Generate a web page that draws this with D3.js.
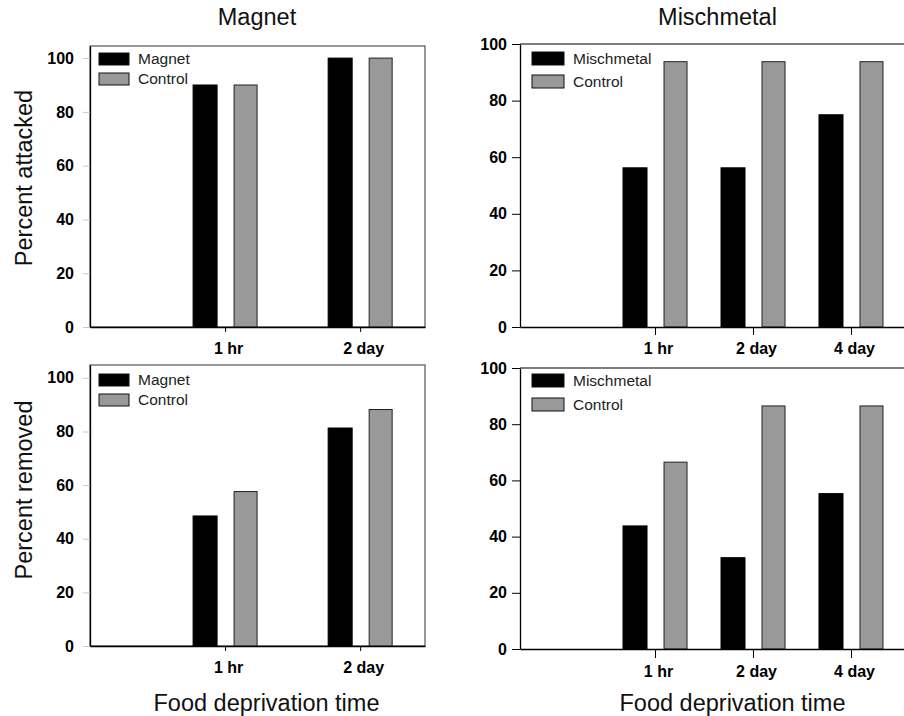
<!DOCTYPE html>
<html><head><meta charset="utf-8">
<script src="https://cdn.jsdelivr.net/npm/d3@7"></script>
<style>
body{margin:0;background:#fff}
svg{display:block;font-family:"Liberation Sans",Arial,sans-serif}
</style>
</head><body>
<svg id="chart" width="904" height="716"></svg>
<script>
// ---- data ----
const magnetCategories = ["1 hr", "2 day"];
const mischCategories = ["1 hr", "2 day", "4 day"];
const yTickValues = [0, 20, 40, 60, 80, 100];
const magnetAttacked = [90, 100];
const magnetAttackedControl = [90, 100];
const mischAttacked = [56.25, 56.25, 75];
const mischAttackedControl = [93.75, 93.75, 93.75];
const magnetRemoved = [48.5, 81.3];
const magnetRemovedControl = [57.6, 88.2];
const mischRemoved = [43.8, 32.5, 55.3];
const mischRemovedControl = [66.5, 86.5, 86.5];
const magnetSeries = ["Magnet", "Control"];
const mischSeries = ["Mischmetal", "Control"];
const panelTitles = ["Magnet", "Mischmetal"];
const yTitles = ["Percent attacked", "Percent removed"];
const xTitle = "Food deprivation time";

// ---- layout ----
const svg = d3.select("#chart");
const BLACK = "#000", GRAY = "#999999";

const panels = [
  {cats: magnetCategories, a: magnetAttacked, c: magnetAttackedControl, names: magnetSeries,
   x0: 90, x1: 425, xDomain: [0, 2.48], yB: 327, yT: 46, yMax: 104.5, frame: true,
   yTick: 7, yPad: 9, yTickColor: "#c8c8c8", xTick: 5, xPad: 11, leg: {x: 99, y: 53, gap: 20, w: 30, h: 12}},
  {cats: mischCategories, a: mischAttacked, c: mischAttackedControl, names: mischSeries,
   x0: 520, x1: 904, xDomain: [-0.378, 3.541], yB: 327, yT: 44, yMax: 100, frame: false,
   yTick: 8, yPad: 5, yTickColor: "#000", xTick: 8, xPad: 8, leg: {x: 532, y: 52, gap: 23, w: 32, h: 13}},
  {cats: magnetCategories, a: magnetRemoved, c: magnetRemovedControl, names: magnetSeries,
   x0: 90, x1: 425, xDomain: [0, 2.48], yB: 646, yT: 365, yMax: 104.8, frame: true,
   yTick: 7, yPad: 9, yTickColor: "#c8c8c8", xTick: 5, xPad: 11, leg: {x: 99, y: 374, gap: 20, w: 30, h: 12}},
  {cats: mischCategories, a: mischRemoved, c: mischRemovedControl, names: mischSeries,
   x0: 520, x1: 904, xDomain: [-0.378, 3.541], yB: 649, yT: 368, yMax: 100, frame: false,
   yTick: 8, yPad: 5, yTickColor: "#000", xTick: 9, xPad: 8, leg: {x: 532, y: 374, gap: 24, w: 32, h: 13}}
];

panels.forEach(p => {
  const x = d3.scaleLinear().domain(p.xDomain).range([p.x0, p.x1]);
  const y = d3.scaleLinear().domain([0, p.yMax]).range([p.yB, p.yT]);
  const g = svg.append("g");

  // frame / top line
  if (p.frame) {
    g.append("rect").attr("x", p.x0).attr("y", p.yT).attr("width", p.x1 - p.x0).attr("height", p.yB - p.yT)
      .attr("fill", "none").attr("stroke", "#333").attr("stroke-width", 1);
  } else {
    g.append("line").attr("x1", p.x0).attr("x2", p.x1).attr("y1", y(100)).attr("y2", y(100))
      .attr("stroke", "#000").attr("stroke-width", 1);
  }

  // bars
  const idx = d3.range(p.cats.length);
  g.selectAll("rect.a").data(idx).join("rect")
    .attr("x", i => x(i + 1) - 32).attr("width", 24)
    .attr("y", i => y(p.a[i])).attr("height", i => y(0) - y(p.a[i]))
    .attr("fill", BLACK).attr("stroke", "#000").attr("stroke-width", 1);
  g.selectAll("rect.c").data(idx).join("rect")
    .attr("x", i => x(i + 1) + 9).attr("width", 23)
    .attr("y", i => y(p.c[i])).attr("height", i => y(0) - y(p.c[i]))
    .attr("fill", GRAY).attr("stroke", "#222").attr("stroke-width", 1);

  // y axis
  const ya = g.append("g").attr("transform", `translate(${p.x0},0)`)
    .call(d3.axisLeft(y).tickValues(yTickValues).tickSize(p.yTick).tickPadding(p.yPad).tickSizeOuter(0));
  ya.select(".domain").attr("stroke", "#000").attr("stroke-width", 1.3);
  ya.selectAll(".tick line").attr("stroke", p.yTickColor);
  ya.selectAll(".tick text").attr("font-size", 16).attr("font-weight", "bold")
    .attr("font-family", "Liberation Sans, Arial, sans-serif").attr("fill", "#000");

  // x axis
  const xa = g.append("g").attr("transform", `translate(0,${p.yB})`)
    .call(d3.axisBottom(x).tickValues(idx.map(i => i + 1)).tickFormat(v => p.cats[v - 1])
      .tickSize(p.xTick).tickPadding(p.xPad).tickSizeOuter(0));
  xa.select(".domain").attr("stroke", "#000").attr("stroke-width", 1.6);
  xa.selectAll(".tick line").attr("stroke", "#000");
  xa.selectAll(".tick text").attr("font-size", 16).attr("font-weight", "bold")
    .attr("font-family", "Liberation Sans, Arial, sans-serif").attr("fill", "#000").attr("dx", 3);

  // legend
  const lg = g.append("g");
  const fills = [BLACK, GRAY];
  p.names.forEach((n, k) => {
    lg.append("rect").attr("x", p.leg.x).attr("y", p.leg.y + k * p.leg.gap)
      .attr("width", p.leg.w).attr("height", p.leg.h)
      .attr("fill", fills[k]).attr("stroke", "#111").attr("stroke-width", 1);
    lg.append("text").attr("x", p.leg.x + p.leg.w + 9).attr("y", p.leg.y + k * p.leg.gap + p.leg.h - 1)
      .attr("font-size", 15.5).attr("fill", "#222").text(n);
  });
});

// titles
svg.append("text").attr("x", 257).attr("y", 25).attr("text-anchor", "middle")
  .attr("font-size", 23.5).attr("fill", "#111").text(panelTitles[0]);
svg.append("text").attr("x", 717.5).attr("y", 25).attr("text-anchor", "middle")
  .attr("font-size", 23.5).attr("fill", "#111").text(panelTitles[1]);

[178, 490].forEach((cy, k) => {
  svg.append("text").attr("transform", `translate(32,${cy}) rotate(-90)`).attr("text-anchor", "middle")
    .attr("font-size", 23.5).attr("fill", "#111").text(yTitles[k]);
});
[266.5, 732.5].forEach(cx => {
  svg.append("text").attr("x", cx).attr("y", 711).attr("text-anchor", "middle")
    .attr("font-size", 23.5).attr("fill", "#111").text(xTitle);
});
</script>
</body></html>
